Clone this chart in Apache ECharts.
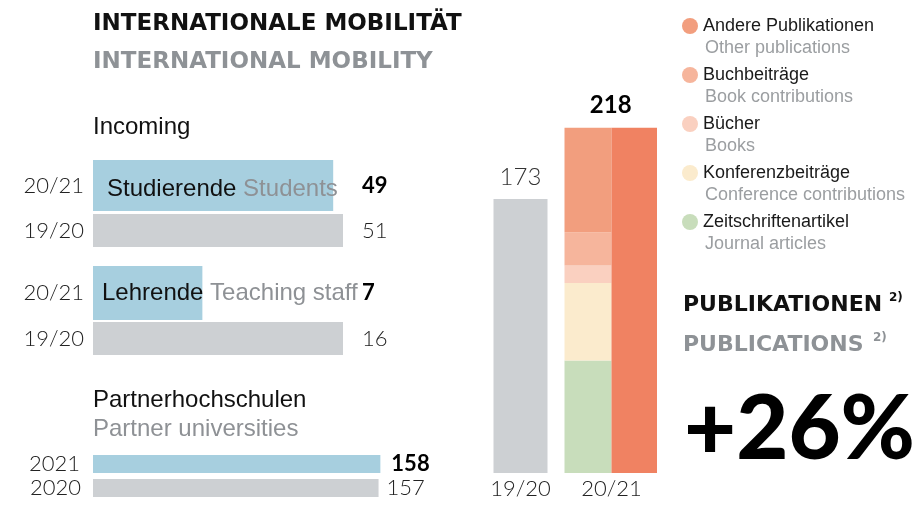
<!DOCTYPE html>
<html>
<head>
<meta charset="utf-8">
<script src="https://cdn.jsdelivr.net/npm/echarts@6/dist/echarts.min.js"></script>
<style>
html, body { margin: 0; padding: 0; background: #fff; }
#chart { width: 922px; height: 512px; }
</style>
</head>
<body>
<div id="chart"></div>
<script>
// data
var mobilityYears = ['20/21', '19/20'];
var mobilityNamesDe = ['Studierende', 'Lehrende'];
var mobilityNamesEn = ['Students', 'Teaching staff'];
var studentValues = [49, 51];
var staffValues = [7, 16];
var partnerYears = ['2021', '2020'];
var partnerValues = [158, 157];
var pubYears = ['19/20', '20/21'];
var pubTotals = [173, 218];
var pubNamesDe = ['Zeitschriftenartikel', 'Konferenzbeiträge', 'Bücher', 'Buchbeiträge', 'Andere Publikationen'];
var pubNamesEn = ['Journal articles', 'Conference contributions', 'Books', 'Book contributions', 'Other publications'];
var pubValues2021 = [71, 49, 11, 21, 66];
var pubChange = '+26%';

var FONT = '"Liberation Sans", Arial, sans-serif';
var NUM = 'Lato, sans-serif';
var HEAD = '"DejaVu Sans", sans-serif';
var BLUE = '#A7CFDF';
var GRAY = '#CDD0D3';
var pubColors = ['#C8DDBB', '#FBEBCD', '#FAD0C0', '#F6B59C', '#F29E7E'];
var TOTAL_COLOR = '#F08262';

var myChart = echarts.init(document.getElementById('chart'));

var grids = [], xAxes = [], yAxes = [], series = [];

// one grid per horizontal bar, so every bar can have its own thickness
function addRow(top, height, width, max, year, value, current, yearMargin, valueRight, inner, shift) {
    var gi = grids.length;
    shift = shift || 0;
    grids.push({ left: 93, top: top, width: width, height: height, outerBoundsMode: 'none' });
    xAxes.push({ gridIndex: gi, type: 'value', min: 0, max: max, show: false });
    yAxes.push({
        gridIndex: gi, type: 'category', data: [year],
        axisLine: { show: false }, axisTick: { show: false }, splitLine: { show: false },
        axisLabel: { margin: yearMargin, padding: [shift * 2, 0, 0, 0], fontFamily: NUM, fontWeight: 300, fontSize: 22, color: '#222' }
    });
    var yi = yAxes.length - 1;
    if (valueRight) {
        // value printed in a fixed column right of the bars
        yAxes.push({
            gridIndex: gi, type: 'category', position: 'right', data: [String(value)],
            axisLine: { show: false }, axisTick: { show: false }, splitLine: { show: false },
            axisLabel: {
                margin: 19, padding: [shift * 2, 0, 0, 0], fontFamily: NUM, fontSize: 22,
                fontWeight: current ? 700 : 300, color: current ? '#000' : '#222'
            }
        });
    }
    var label = { show: false };
    if (inner) {
        label = {
            show: true, position: 'insideLeft', distance: inner.distance, offset: [0, shift],
            formatter: '{de|' + inner.de + '}{en| ' + inner.en + '}',
            rich: {
                de: { fontFamily: FONT, fontSize: 24, color: '#111' },
                en: { fontFamily: FONT, fontSize: 24, color: '#8E9195' }
            }
        };
    } else if (!valueRight) {
        label = {
            show: true, position: 'right', distance: current ? 11 : 8,
            fontFamily: NUM, fontSize: 22,
            fontWeight: current ? 700 : 300, color: current ? '#000' : '#222'
        };
    }
    series.push({
        type: 'bar', xAxisIndex: gi, yAxisIndex: yi, data: [value],
        barWidth: height, itemStyle: { color: current ? BLUE : GRAY },
        label: label, silent: true
    });
}

addRow(160, 51, 250, studentValues[1], mobilityYears[0], studentValues[0], true, 9, true,
    { distance: 14, de: mobilityNamesDe[0], en: mobilityNamesEn[0] }, 4);
addRow(214, 33, 250, studentValues[1], mobilityYears[1], studentValues[1], false, 9, true, null);
addRow(266, 54, 250, staffValues[1], mobilityYears[0], staffValues[0], true, 9, true,
    { distance: 9, de: mobilityNamesDe[1], en: mobilityNamesEn[1] });
addRow(322, 33, 250, staffValues[1], mobilityYears[1], staffValues[1], false, 9, true, null);
addRow(455, 18, 291, 160, partnerYears[0], partnerValues[0], true, 13, false, null);
addRow(479, 18, 291, 160, partnerYears[1], partnerValues[1], false, 12, false, null);

// publications column chart
var pg = grids.length;
grids.push({ left: 475, top: 77, width: 182, height: 396, outerBoundsMode: 'none' });
var xa = xAxes.length;
xAxes.push({
    gridIndex: pg, type: 'category', data: pubYears,
    axisLine: { show: false }, axisTick: { show: false },
    axisLabel: { margin: 5, fontFamily: NUM, fontWeight: 300, fontSize: 22, color: '#222' }
});
xAxes.push({ gridIndex: pg, type: 'category', data: pubYears, show: false });
var ya = yAxes.length;
yAxes.push({ gridIndex: pg, type: 'value', min: 0, max: 250, show: false });

series.push({
    name: pubYears[0], type: 'bar', xAxisIndex: xa, yAxisIndex: ya,
    data: [pubTotals[0], '-'], barWidth: 54, itemStyle: { color: GRAY }, silent: true,
    label: { show: true, position: 'top', distance: 10, fontFamily: NUM, fontWeight: 300, fontSize: 24, color: '#333' }
});
for (var i = 0; i < pubNamesDe.length; i++) {
    series.push({
        name: pubNamesDe[i], type: 'bar', stack: 'pub', xAxisIndex: xa + 1, yAxisIndex: ya,
        data: ['-', pubValues2021[i]], barWidth: 47, barGap: 0,
        itemStyle: { color: pubColors[i] }, silent: true
    });
}
series.push({
    name: 'Gesamt', type: 'bar', stack: 'tot', xAxisIndex: xa + 1, yAxisIndex: ya,
    data: ['-', pubTotals[1]], barWidth: 47, barGap: 0,
    itemStyle: { color: TOTAL_COLOR }, silent: true,
    label: { show: true, position: 'top', distance: 10, offset: [-23.5, 0], fontFamily: NUM, fontWeight: 700, fontSize: 24, color: '#000' }
});

var legendNames = pubNamesDe.slice().reverse();

var option = {
    animation: false,
    grid: grids,
    xAxis: xAxes,
    yAxis: yAxes,
    series: series,
    legend: [{
        data: legendNames, orient: 'vertical', left: 682, top: 17, padding: 0,
        icon: 'circle', itemWidth: 16, itemHeight: 16, itemGap: 31, selectedMode: false,
        textStyle: { fontFamily: FONT, fontSize: 18, color: '#1a1a1a' }
    }, {
        data: legendNames, orient: 'vertical', left: 700, top: 39, padding: 0,
        icon: 'none', itemWidth: 0, itemHeight: 0, itemGap: 31, selectedMode: false,
        formatter: function (name) { return pubNamesEn[pubNamesDe.indexOf(name)]; },
        textStyle: { fontFamily: FONT, fontSize: 18, color: '#9B9EA1' }
    }],
    graphic: [
        { type: 'text', x: 93, y: 24, style: { text: 'INTERNATIONALE MOBILITÄT', font: 'bold 23px ' + HEAD, fill: '#111', verticalAlign: 'middle' } },
        { type: 'text', x: 93, y: 62, style: { text: 'INTERNATIONAL MOBILITY', font: 'bold 23px ' + HEAD, fill: '#8E9296', verticalAlign: 'middle' } },
        { type: 'text', x: 93, y: 127, style: { text: 'Incoming', font: '24px ' + FONT, fill: '#111', verticalAlign: 'middle' } },
        { type: 'text', x: 93, y: 400, style: { text: 'Partnerhochschulen', font: '24px ' + FONT, fill: '#111', verticalAlign: 'middle' } },
        { type: 'text', x: 93, y: 429, style: { text: 'Partner universities', font: '24px ' + FONT, fill: '#8E9195', verticalAlign: 'middle' } },
        { type: 'text', x: 683, y: 305, style: { text: 'PUBLIKATIONEN', font: 'bold 22px ' + HEAD, fill: '#111', verticalAlign: 'middle' } },
        { type: 'text', x: 889, y: 298, style: { text: '2)', font: 'bold 12px ' + HEAD, fill: '#111', verticalAlign: 'middle' } },
        { type: 'text', x: 683, y: 345, style: { text: 'PUBLICATIONS', font: 'bold 22px ' + HEAD, fill: '#8E9296', verticalAlign: 'middle' } },
        { type: 'text', x: 873, y: 338, style: { text: '2)', font: 'bold 12px ' + HEAD, fill: '#8E9296', verticalAlign: 'middle' } },
        { type: 'text', x: 684, y: 430, style: { text: pubChange, font: '900 90px ' + NUM, fill: '#000', verticalAlign: 'middle' } }
    ]
};

myChart.setOption(option);
</script>
</body>
</html>
